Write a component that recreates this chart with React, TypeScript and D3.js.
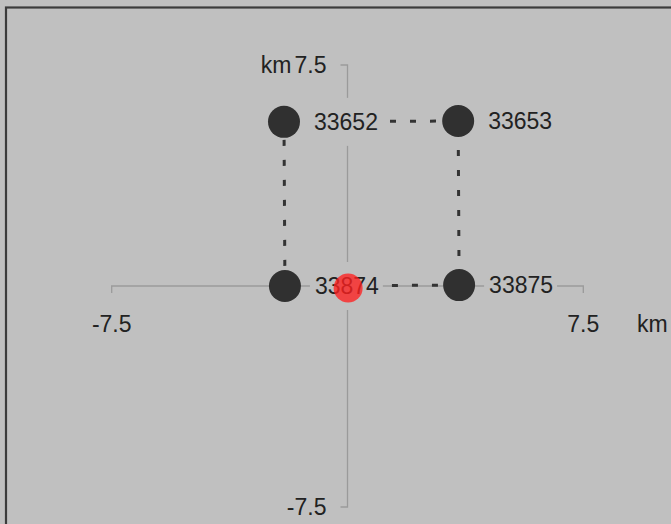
import React from "react";
import * as d3 from "d3";

const stationIds = ["33652", "33653", "33874", "33875"];
const stationX = [-2.02, 3.52, -1.99, 3.55];
const stationY = [5.57, 5.6, 0.0, 0.03];
const links: [number, number][] = [[0, 1], [0, 2], [1, 3], [2, 3]];
const originX = [0.02];
const originY = [-0.07];
const axisMin = -7.5;
const axisMax = 7.5;
const unitLabel = "km";

const W = 671;
const H = 524;
const FONT = "'Liberation Sans', Arial, sans-serif";
const FS = 23;
const linkDashOffsets = [-6, -18, -9, -7];

export default function App() {
  const x = d3.scaleLinear().domain([axisMin, axisMax]).range([111.7, 583.3]);
  const y = d3.scaleLinear().domain([axisMax, axisMin]).range([65, 507]);
  const x0 = x(0);
  const y0 = y(0);
  const bg = "#c0c0c0";
  const axisColor = "#9a9a9a";
  const textColor = "#222";
  const fmt = (v: number) => String(v);

  const labelW = (s: string) => s.length * 0.556 * FS;

  return (
    <svg width={W} height={H} style={{ position: "absolute", left: 0, top: 0 }} fontFamily={FONT}>
      <rect x={0} y={0} width={W} height={H} fill={bg} />
      <rect x={6} y={7.5} width={W + 20} height={H + 20} fill="none" stroke="#3c3c3c" strokeWidth={2.2} />

      {/* axes */}
      <g stroke={axisColor} strokeWidth={1.3} fill="none">
        <path d={`M${x(axisMin)},${y0 + 7}V${y0}H${x(axisMax)}V${y0 + 7}`} />
        <path d={`M${x0 - 7},${y(axisMax)}H${x0}V${y(axisMin)}H${x0 - 7}`} />
      </g>
      <g fill={textColor} fontSize={FS}>
        <text x={x(axisMin)} y={y0 + 46} textAnchor="middle">{fmt(axisMin)}</text>
        <text x={x(axisMax)} y={y0 + 46} textAnchor="middle">{fmt(axisMax)}</text>
        <text x={637} y={y0 + 46}>{unitLabel}</text>
        <text x={x0 - 21} y={y(axisMax) + 8} textAnchor="end">{fmt(axisMax)}</text>
        <text x={x0 - 56} y={y(axisMax) + 8} textAnchor="end">{unitLabel}</text>
        <text x={x0 - 21} y={y(axisMin) + 8} textAnchor="end">{fmt(axisMin)}</text>
      </g>

      {/* dotted links */}
      <g stroke="#333" strokeWidth={3} strokeDasharray="6 14" fill="none">
        {links.map(([a, b], i) => (
          <line
            key={i}
            x1={x(stationX[a])}
            y1={y(stationY[a])}
            x2={x(stationX[b])}
            y2={y(stationY[b])}
            strokeDashoffset={linkDashOffsets[i]}
          />
        ))}
      </g>

      {/* labels */}
      {stationIds.map((id, i) => {
        const tx = x(stationX[i]) + 30;
        const ty = y(stationY[i]);
        const w = labelW(id);
        return (
          <g key={id}>
            <rect x={tx - 5} y={ty - 24} width={w + 9} height={48} fill={bg} />
            <text x={tx} y={ty + 8} fontSize={FS} fill={textColor}>{id}</text>
          </g>
        );
      })}

      {/* stations */}
      {stationIds.map((id, i) => (
        <circle key={id} cx={x(stationX[i])} cy={y(stationY[i])} r={16} fill="#303030" />
      ))}

      {originX.map((v, i) => (
        <circle key={i} cx={x(v)} cy={y(originY[i])} r={14.5} fill="#ff2020" fillOpacity={0.78} />
      ))}
    </svg>
  );
}
